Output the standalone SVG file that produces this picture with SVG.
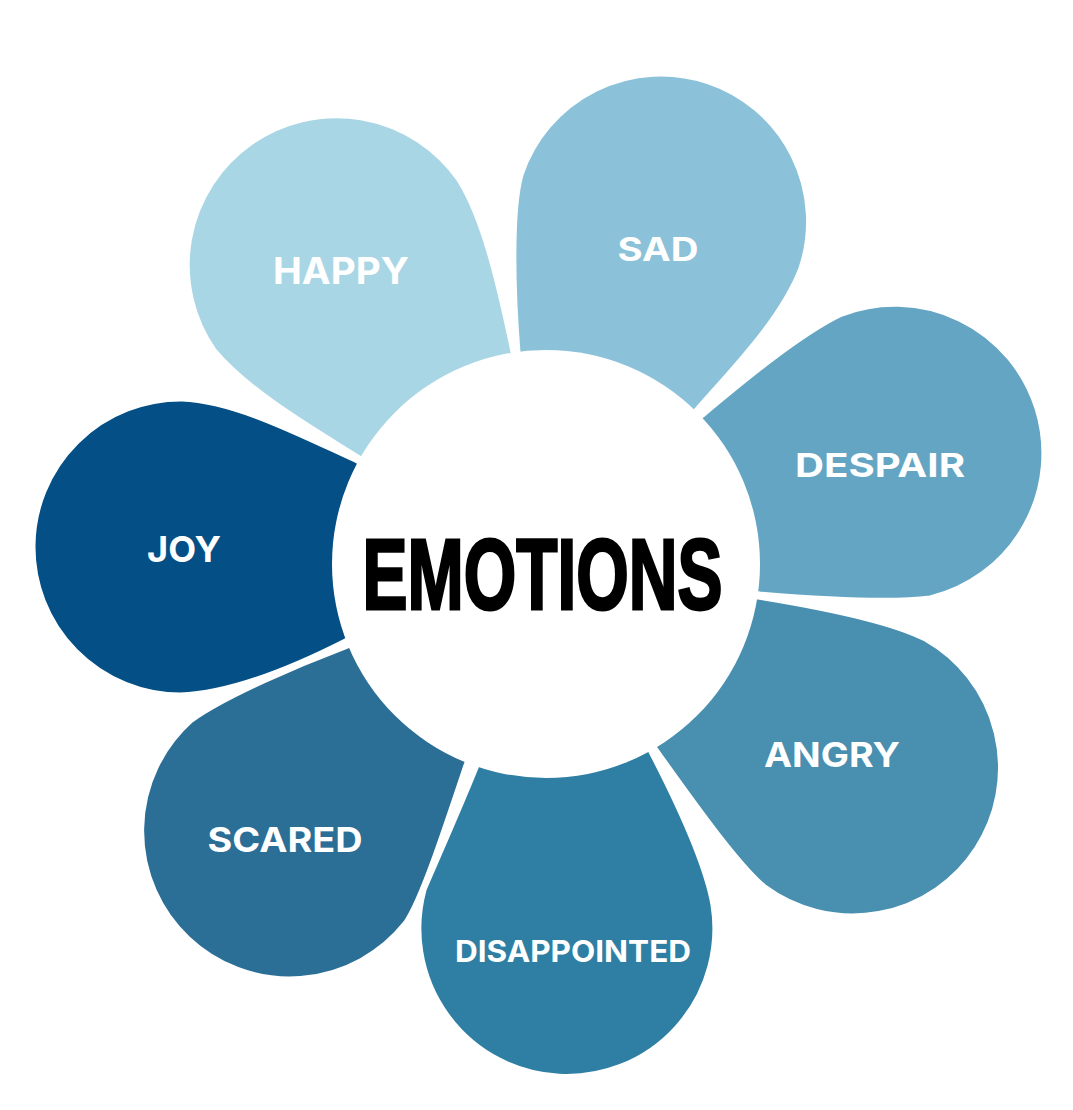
<svg xmlns="http://www.w3.org/2000/svg" width="1073" height="1110" viewBox="0 0 1073 1110">
<style>
.petal{stroke:#ffffff;stroke-width:3;stroke-linejoin:round}
.lbl{font-family:Inter,"Open Sans","Liberation Sans",sans-serif;font-weight:700;fill:#ffffff;text-anchor:middle}
.title{font-family:"Liberation Sans",Arial,sans-serif;font-weight:700;fill:#000000;stroke:#000000;stroke-width:3;stroke-linejoin:miter;text-anchor:middle}
</style>
<rect width="1073" height="1110" fill="#ffffff"/>
<g id="connectors"></g>
<g id="petal-happy">
<path class="petal" fill="#a9d6e5" d="M 546,564 L 512,352 C 497,280 482,218 458,180 A 148 148 0 1 0 215,350 C 250,392 320,432 358,456 Z"/>
<text class="lbl" x="341" y="284" font-size="37" textLength="136" lengthAdjust="spacingAndGlyphs">HAPPY</text>
</g>
<g id="petal-sad">
<path class="petal" fill="#8bc2d9" d="M 546,564 L 519,352 C 514,290 512,210 522,175 A 146 146 0 1 1 800,268 C 780,320 730,370 697,408 Z"/>
<text class="lbl" x="658" y="261" font-size="32" textLength="81" lengthAdjust="spacingAndGlyphs">SAD</text>
</g>
<g id="petal-despair">
<path class="petal" fill="#63a5c3" d="M 546,564 L 703,416 C 740,385 800,335 842,315 A 148 148 0 1 1 930,597 C 890,602 820,598 760,593 Z"/>
<text class="lbl" x="880" y="477" font-size="33" textLength="170" lengthAdjust="spacingAndGlyphs">DESPAIR</text>
</g>
<g id="petal-angry">
<path class="petal" fill="#488fb0" d="M 546,564 L 758,598 C 820,608 890,622 925,640 A 147 147 0 1 1 765,886 C 740,865 700,810 656,748 Z"/>
<text class="lbl" x="832" y="767" font-size="34" textLength="136" lengthAdjust="spacingAndGlyphs">ANGRY</text>
</g>
<g id="petal-joy">
<path class="petal" fill="#034f86" d="M 546,564 L 355,461 C 300,436 235,402 182,400 A 147 147 0 1 0 180,694 C 230,692 290,668 345,640 Z"/>
<text class="lbl" x="184" y="562" font-size="36" textLength="74" lengthAdjust="spacingAndGlyphs">JOY</text>
</g>
<g id="petal-scared">
<path class="petal" fill="#2b6e96" d="M 546,564 L 465,765 C 440,840 420,900 405,922 A 147 147 0 1 1 192,721 C 225,697 300,665 345,648 Z"/>
<text class="lbl" x="285" y="852" font-size="34" textLength="155" lengthAdjust="spacingAndGlyphs">SCARED</text>
</g>
<g id="petal-disappointed">
<path class="petal" fill="#2e7fa3" d="M 546,564 L 650,752 C 680,810 705,865 712,905 A 147 147 0 1 1 425,890 C 440,855 460,810 477,768 Z"/>
<text class="lbl" x="573" y="962" font-size="30" textLength="236" lengthAdjust="spacingAndGlyphs">DISAPPOINTED</text>
</g>
<g id="center">
<circle cx="546" cy="564" r="214" fill="#ffffff"/>
<text class="title" x="542.5" y="609" font-size="101" textLength="360" lengthAdjust="spacingAndGlyphs">EMOTIONS</text>
</g>
</svg>
